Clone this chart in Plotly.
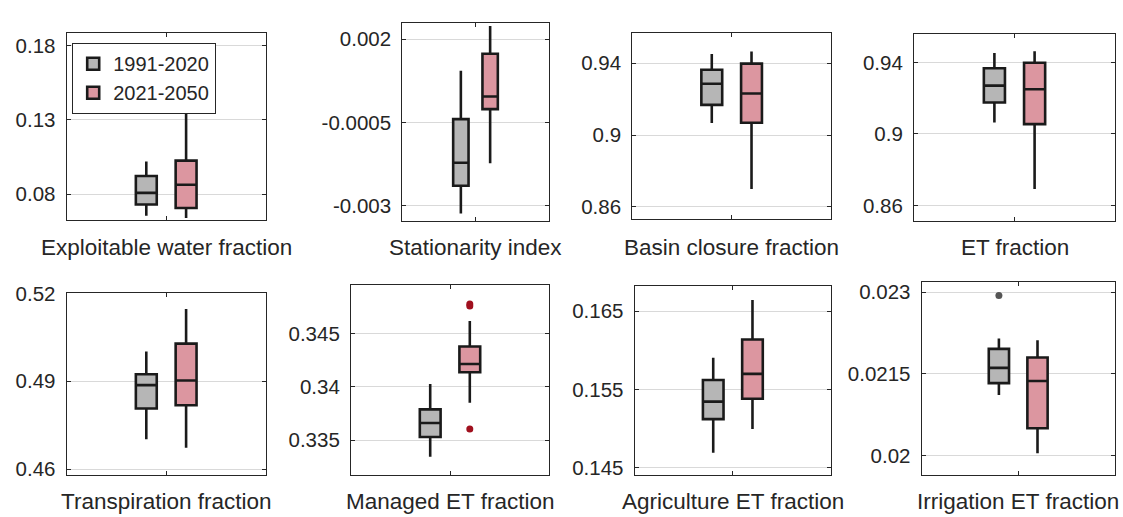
import plotly.graph_objects as go

# ---------------- data ----------------
periods = ["1991-2020", "2021-2050"]

panel_names = [
    "Exploitable water fraction", "Stationarity index", "Basin closure fraction", "ET fraction",
    "Transpiration fraction", "Managed ET fraction", "Agriculture ET fraction", "Irrigation ET fraction",
]

# box statistics: [lower whisker, Q1, median, Q3, upper whisker]
exploitable_1991 = [0.0655, 0.0730, 0.0809, 0.0922, 0.1020]
exploitable_2021 = [0.0639, 0.0707, 0.0863, 0.1026, 0.1387]
stationarity_1991 = [-0.00323, -0.00240, -0.00171, -0.00040, 0.00105]
stationarity_2021 = [-0.00172, -0.00010, 0.00028, 0.00156, 0.00239]
closure_1991 = [0.9067, 0.9168, 0.9286, 0.9364, 0.9452]
closure_2021 = [0.8699, 0.9069, 0.9232, 0.9398, 0.9466]
et_1991 = [0.9064, 0.9176, 0.9270, 0.9367, 0.9453]
et_2021 = [0.8692, 0.9055, 0.9250, 0.9398, 0.9462]
transp_1991 = [0.4702, 0.4807, 0.4887, 0.4924, 0.5002]
transp_2021 = [0.4673, 0.4818, 0.4903, 0.5029, 0.5147]
managed_1991 = [0.33346, 0.33531, 0.33662, 0.33789, 0.34027]
managed_2021 = [0.33852, 0.34137, 0.34213, 0.34377, 0.34615]
agri_1991 = [0.14692, 0.15121, 0.15344, 0.15620, 0.15905]
agri_2021 = [0.14993, 0.15381, 0.15698, 0.16137, 0.16641]
irr_1991 = [0.02111, 0.02133, 0.02161, 0.02196, 0.02215]
irr_2021 = [0.02004, 0.02050, 0.02137, 0.02180, 0.02212]

# outliers
managed_2021_outliers = [0.34775, 0.34757, 0.33606]
irr_1991_outliers = [0.02294]

stats_1991 = [exploitable_1991, stationarity_1991, closure_1991, et_1991,
              transp_1991, managed_1991, agri_1991, irr_1991]
stats_2021 = [exploitable_2021, stationarity_2021, closure_2021, et_2021,
              transp_2021, managed_2021, agri_2021, irr_2021]

tick_vals = [
    [0.08, 0.13, 0.18], [-0.003, -0.0005, 0.002], [0.86, 0.9, 0.94], [0.86, 0.9, 0.94],
    [0.46, 0.49, 0.52], [0.335, 0.34, 0.345], [0.145, 0.155, 0.165], [0.02, 0.0215, 0.023],
]
tick_text = [
    ["0.08", "0.13", "0.18"], ["-0.003", "-0.0005", "0.002"], ["0.86", "0.9", "0.94"], ["0.86", "0.9", "0.94"],
    ["0.46", "0.49", "0.52"], ["0.335", "0.34", "0.345"], ["0.145", "0.155", "0.165"], ["0.02", "0.0215", "0.023"],
]
y_ranges = [
    [0.0624, 0.1885], [-0.003456, 0.002486], [0.8530, 0.9569], [0.8512, 0.9561],
    [0.4578, 0.5203], [0.33171, 0.34953], [0.14401, 0.16827], [0.019633, 0.023183],
]

# ---------------- layout geometry (pixels) ----------------
W, H = 1123, 517
# x0, x1, ytop, ybottom
boxes_px = [
    (66.7, 265.7, 22.7, 216.0), (402.3, 548.7, 12.3, 216.7), (632.3, 831.0, 22.7, 215.0), (914.0, 1115.0, 23.3, 217.0),
    (66.7, 265.7, 290.7, 479.3), (351.0, 549.0, 282.7, 479.3), (634.7, 831.0, 283.3, 479.3), (921.7, 1114.7, 280.0, 479.3),
]
label_y_px = [244, 244, 244, 244, 506, 506, 506, 506]

colors = {"1991-2020": "#b6b6b6", "2021-2050": "#dc96a0"}
edge = "#1a1a1a"
txt = "#262626"
font_family = "Liberation Sans, Arial, sans-serif"

fig = go.Figure()

for i in range(8):
    ax = "" if i == 0 else str(i + 1)
    for period, stats in zip(periods, [stats_1991[i], stats_2021[i]]):
        lf, q1, med, q3, uf = stats
        fig.add_trace(go.Box(
            x=[period], q1=[q1], median=[med], q3=[q3], lowerfence=[lf], upperfence=[uf],
            name=period, legendgroup=period, showlegend=(i == 0),
            fillcolor=colors[period], line=dict(color=edge, width=2.6),
            boxpoints=False, whiskerwidth=0, hoverinfo="skip",
            xaxis="x" + ax, yaxis="y" + ax,
        ))

# outliers
fig.add_trace(go.Scatter(x=[periods[1]] * len(managed_2021_outliers), y=managed_2021_outliers,
                         mode="markers", marker=dict(color="#a0101e", size=7),
                         showlegend=False, hoverinfo="skip", xaxis="x6", yaxis="y6"))
fig.add_trace(go.Scatter(x=[periods[0]] * len(irr_1991_outliers), y=irr_1991_outliers,
                         mode="markers", marker=dict(color="#555555", size=7),
                         showlegend=False, hoverinfo="skip", xaxis="x8", yaxis="y8"))

layout = dict(
    width=W, height=H, margin=dict(l=0, r=0, t=0, b=0),
    paper_bgcolor="white", plot_bgcolor="white",
    boxgap=0.25, boxmode="overlay",
    font=dict(family=font_family, color=txt, size=20),
    legend=dict(x=72 / W, y=1 - 33 / H, xanchor="left", yanchor="top",
                bordercolor=txt, borderwidth=1.2, bgcolor="white",
                font=dict(size=20, family=font_family, color=txt),
                itemwidth=30, tracegroupgap=0),
    annotations=[],
)

for i in range(8):
    x0, x1, yt, yb = boxes_px[i]
    ax = "" if i == 0 else str(i + 1)
    layout["xaxis" + ax] = dict(
        domain=[x0 / W, x1 / W], anchor="y" + ax,
        type="category", categoryorder="array", categoryarray=periods,
        range=[-2, 3], tickmode="array", tickvals=[0.5], ticktext=[""],
        ticks="inside", ticklen=4, tickcolor=txt, showticklabels=False,
        showline=True, linecolor=txt, linewidth=1.2, mirror="ticks",
        showgrid=False, zeroline=False, fixedrange=True,
    )
    layout["yaxis" + ax] = dict(
        domain=[1 - yb / H, 1 - yt / H], anchor="x" + ax,
        range=y_ranges[i], tickmode="array", tickvals=tick_vals[i], ticktext=tick_text[i],
        ticks="inside", ticklen=4, tickcolor=txt,
        tickfont=dict(size=20.5, family=font_family, color=txt),
        ticklabelstandoff=6,
        showline=True, linecolor=txt, linewidth=1.2, mirror="ticks",
        showgrid=True, gridcolor="#d9d9d9", gridwidth=1, zeroline=False, fixedrange=True,
    )
    layout["annotations"].append(dict(
        text=panel_names[i], xref="paper", yref="paper",
        x=(x0 + x1) / 2 / W, y=1 - label_y_px[i] / H, xanchor="center", yanchor="middle",
        showarrow=False, font=dict(size=22.5, family=font_family, color=txt),
    ))

fig.update_layout(**layout)
fig.write_html("out.html", config={"displayModeBar": False},
               post_script="document.body.style.margin='0';")
